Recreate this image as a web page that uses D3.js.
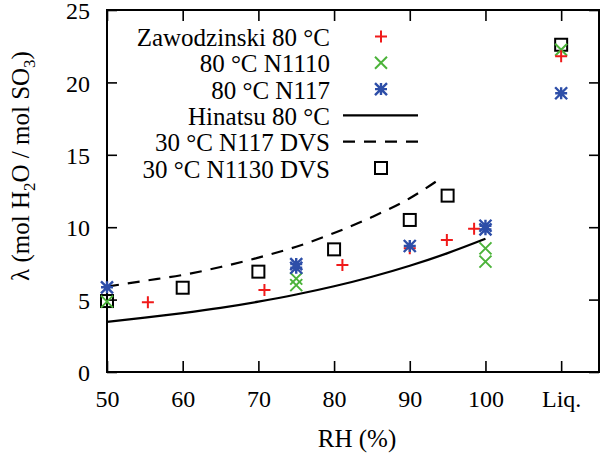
<!DOCTYPE html>
<html>
<head>
<meta charset="utf-8">
<script src="https://cdn.jsdelivr.net/npm/d3@7"></script>
<style>
  html, body { margin: 0; padding: 0; background: #fff; }
  svg { display: block; }
  svg text { font-family: "Liberation Serif", "Times New Roman", Tinos, Times, "DejaVu Serif", "Noto Serif", serif; }
</style>
</head>
<body>
<svg id="chart" width="600" height="454"></svg>
<script>
// ---- data ----
const xTickValues = [50, 60, 70, 80, 90, 100, 110];
const xTickLabels = ["50", "60", "70", "80", "90", "100", "Liq."];
const yTickValues = [0, 5, 10, 15, 20, 25];

// Zawodzinski 80 °C (red +); 110 = Liq.
const zawX = [55.4, 70.8, 81.1, 90, 94.9, 98.5, 110];
const zawY = [4.81, 5.66, 7.39, 8.54, 9.12, 9.9, 21.8];

// 80 °C N1110 (green x)
const n1110X = [50, 75, 75, 100, 100, 110];
const n1110Y = [4.86, 6.0, 6.45, 7.62, 8.54, 22.25];

// 80 °C N117 (blue asterisk)
const n117X = [50, 75, 75, 90, 100, 100, 110];
const n117Y = [5.85, 7.2, 7.45, 8.7, 9.85, 10.1, 19.25];

// Hinatsu 80 °C (solid line)
const hinX = [50, 55, 60, 65, 70, 75, 80, 85, 90, 95, 100];
const hinY = [3.46, 3.75, 4.07, 4.43, 4.86, 5.35, 5.92, 6.58, 7.34, 8.21, 9.2];

// 30 °C N117 DVS (dashed line)
const dvsX = [50, 55, 60, 65, 70, 75, 80, 85, 90, 94.3];
const dvsY = [5.9, 6.3, 6.7, 7.25, 7.9, 8.65, 9.6, 10.7, 12.0, 13.45];

// 30 °C N1130 DVS (open squares)
const sqX = [50, 60, 70, 80, 90, 95, 110];
const sqY = [4.9, 5.82, 6.93, 8.47, 10.5, 12.18, 22.6];

const legendLabels = ["Zawodzinski 80 °C", "80 °C N1110", "80 °C N117", "Hinatsu 80 °C", "30 °C N117 DVS", "30 °C N1130 DVS"];

// ---- styles ----
const RED = "#f01a1a", GREEN = "#4cb33a", BLUE = "#2d4ea8";
const FONT = '"Liberation Serif", "Times New Roman", Tinos, Times, "DejaVu Serif", "Noto Serif", serif';
const svg = d3.select("#chart");
const L = 107, R = 599, T = 10, B = 372;
const x = d3.scaleLinear().domain([50, 115]).range([L, R]);
const y = d3.scaleLinear().domain([0, 25]).range([B, T]);
const FS = 24;

// axes
const gx = svg.append("g").attr("transform", `translate(0,${B})`)
  .call(d3.axisBottom(x).tickValues(xTickValues)
    .tickFormat((d, i) => xTickLabels[i]).tickSizeInner(-11).tickSizeOuter(0).tickPadding(18));
const gy = svg.append("g").attr("transform", `translate(${L},0)`)
  .call(d3.axisLeft(y).tickValues(yTickValues).tickSizeInner(-10).tickSizeOuter(0).tickPadding(17));
const gt = svg.append("g").attr("transform", `translate(0,${T})`)
  .call(d3.axisTop(x).tickValues(xTickValues).tickFormat("").tickSizeInner(-11).tickSizeOuter(0));
const gr = svg.append("g").attr("transform", `translate(${R},0)`)
  .call(d3.axisRight(y).tickValues(yTickValues).tickFormat("").tickSizeInner(-10).tickSizeOuter(0));
[gx, gy, gt, gr].forEach(g => {
  g.attr("font-family", FONT);
  g.select(".domain").remove();
  g.selectAll(".tick line").attr("stroke", "#000").attr("stroke-width", 1.6);
  g.selectAll(".tick text").attr("font-size", FS).attr("fill", "#000");
});
gy.selectAll(".tick text").attr("dy", "0.36em");
svg.append("rect").attr("x", L).attr("y", T).attr("width", R - L).attr("height", B - T)
  .attr("fill", "none").attr("stroke", "#000").attr("stroke-width", 2);

// axis titles
svg.append("text").attr("x", 357).attr("y", 447).attr("text-anchor", "middle")
  .attr("font-family", FONT).attr("font-size", 25).text("RH (%)");
const yl = svg.append("text").attr("transform", "translate(29,166) rotate(-90)")
  .attr("text-anchor", "middle").attr("font-family", FONT).attr("font-size", 25);
yl.append("tspan").text("λ (mol H");
yl.append("tspan").attr("font-size", 17).attr("dy", 6).text("2");
yl.append("tspan").attr("dy", -6).text("O / mol SO");
yl.append("tspan").attr("font-size", 17).attr("dy", 6).text("3");
yl.append("tspan").attr("dy", -6).text(")");

// lines
const plot = svg.append("g");
const lineGen = d3.line().x(d => x(d[0])).y(d => y(d[1])).curve(d3.curveMonotoneX);
plot.append("path").datum(hinX.map((v, i) => [v, hinY[i]])).attr("d", lineGen)
  .attr("fill", "none").attr("stroke", "#000").attr("stroke-width", 2.2);
plot.append("path").datum(dvsX.map((v, i) => [v, dvsY[i]])).attr("d", lineGen)
  .attr("fill", "none").attr("stroke", "#000").attr("stroke-width", 2.2)
  .attr("stroke-dasharray", "12,9");

// marker drawers
const S = 6;
function plus(g, cx, cy, color) {
  g.append("path").attr("d", `M${cx - S},${cy}H${cx + S}M${cx},${cy - S}V${cy + S}`)
    .attr("stroke", color).attr("stroke-width", 2).attr("fill", "none");
}
function cross(g, cx, cy, color) {
  g.append("path").attr("d", `M${cx - S},${cy - S}L${cx + S},${cy + S}M${cx - S},${cy + S}L${cx + S},${cy - S}`)
    .attr("stroke", color).attr("stroke-width", 2).attr("fill", "none");
}
function star(g, cx, cy, color) {
  g.append("path").attr("d", `M${cx - S},${cy}H${cx + S}M${cx},${cy - S}V${cy + S}M${cx - S},${cy - S}L${cx + S},${cy + S}M${cx - S},${cy + S}L${cx + S},${cy - S}`)
    .attr("stroke", color).attr("stroke-width", 2.4).attr("fill", "none");
}
function square(g, cx, cy) {
  g.append("rect").attr("x", cx - S).attr("y", cy - S).attr("width", 2 * S).attr("height", 2 * S)
    .attr("stroke", "#000").attr("stroke-width", 2).attr("fill", "none");
}

sqX.forEach((v, i) => square(plot, x(v), y(sqY[i])));
n1110X.forEach((v, i) => cross(plot, x(v), y(n1110Y[i]), GREEN));
zawX.forEach((v, i) => plus(plot, x(v), y(zawY[i]), RED));
n117X.forEach((v, i) => star(plot, x(v), y(n117Y[i]), BLUE));

// legend
const leg = svg.append("g").attr("font-family", FONT);
const drawers = [
  (g, cy) => plus(g, 381, cy, RED),
  (g, cy) => cross(g, 381, cy, GREEN),
  (g, cy) => star(g, 381, cy, BLUE),
  (g, cy) => g.append("line").attr("x1", 343).attr("x2", 418).attr("y1", cy).attr("y2", cy)
    .attr("stroke", "#000").attr("stroke-width", 2.2),
  (g, cy) => g.append("line").attr("x1", 343).attr("x2", 418).attr("y1", cy).attr("y2", cy)
    .attr("stroke", "#000").attr("stroke-width", 2.2).attr("stroke-dasharray", "12,9"),
  (g, cy) => square(g, 381, cy)
];
legendLabels.forEach((lab, i) => {
  const base = 46 + 26.3 * i;
  leg.append("text").attr("x", 330).attr("y", base).attr("text-anchor", "end")
    .attr("font-size", 25).text(lab);
  drawers[i](leg, base - 9.5);
});
</script>
</body>
</html>
